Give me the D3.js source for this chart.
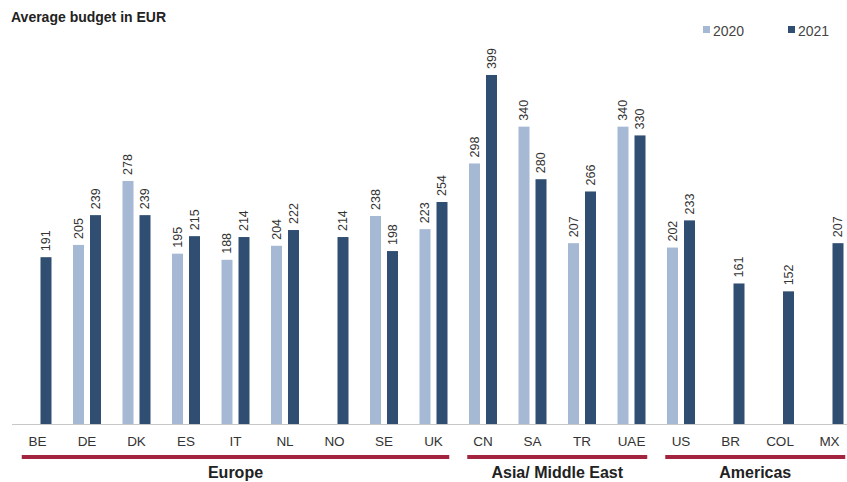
<!DOCTYPE html>
<html>
<head>
<meta charset="utf-8">
<script src="https://cdn.jsdelivr.net/npm/d3@7"></script>
<style>
    body { margin: 0; background: #fff; }
    svg { display: block; font-family: "Liberation Sans", Arial, sans-serif; }
</style>
</head>
<body>
<div id="chart"><svg></svg></div>
<script>
// chart data
const countries = ["BE", "DE", "DK", "ES", "IT", "NL", "NO", "SE", "UK", "CN", "SA", "TR", "UAE", "US", "BR", "COL", "MX"];
const values2020 = [null, 205, 278, 195, 188, 204, null, 238, 223, 298, 340, 207, 340, 202, null, null, null];
const values2021 = [191, 239, 239, 215, 214, 222, 214, 198, 254, 399, 280, 266, 330, 233, 161, 152, 207];
const seriesNames = ["2020", "2021"];
const regions = [
    { name: "Europe", from: "BE", to: "UK" },
    { name: "Asia/ Middle East", from: "CN", to: "UAE" },
    { name: "Americas", from: "US", to: "MX" }
];

const colors = { "2020": "#a5b9d5", "2021": "#2f4e72" };
const width = 847, height = 482;

const svg = d3.select("#chart svg")
    .attr("width", width)
    .attr("height", height);

const x = d3.scaleBand()
    .domain(countries)
    .range([12.75, 854.25]);

const y = d3.scaleLinear()
    .domain([0, 400])
    .range([424.5, 74.1]);

const barW = 11;
const barOffset = { "2020": -14, "2021": 3 };

// title
svg.append("text")
    .attr("x", 11)
    .attr("y", 22)
    .attr("font-size", 14)
    .attr("font-weight", "bold")
    .attr("fill", "#222")
    .text("Average budget in EUR");

// legend
const legend = svg.append("g");
[{ name: "2020", x: 703 }, { name: "2021", x: 788 }].forEach(d => {
    legend.append("rect")
        .attr("x", d.x)
        .attr("y", 26)
        .attr("width", 7)
        .attr("height", 7)
        .attr("fill", colors[d.name]);
    legend.append("text")
        .attr("x", d.x + 10)
        .attr("y", 35.5)
        .attr("font-size", 14)
        .attr("fill", "#444")
        .text(d.name);
});

// bars
const bars = [];
countries.forEach((c, i) => {
    if (values2020[i] != null) bars.push({ country: c, series: "2020", value: values2020[i] });
    if (values2021[i] != null) bars.push({ country: c, series: "2021", value: values2021[i] });
});

const center = c => x(c) + x.bandwidth() / 2;

svg.selectAll(".bar")
    .data(bars)
    .enter()
    .append("rect")
    .attr("class", "bar")
    .attr("x", d => center(d.country) + barOffset[d.series])
    .attr("y", d => y(d.value))
    .attr("width", barW)
    .attr("height", d => y(0) - y(d.value))
    .attr("fill", d => colors[d.series]);

svg.selectAll(".bar-label")
    .data(bars)
    .enter()
    .append("text")
    .attr("class", "bar-label")
    .attr("transform", d => `translate(${center(d.country) + barOffset[d.series] + barW / 2},${y(d.value) - 6}) rotate(-90)`)
    .attr("dy", "0.35em")
    .attr("font-size", 12.5)
    .attr("fill", "#333")
    .text(d => d.value);

// baseline
svg.append("line")
    .attr("x1", 12)
    .attr("x2", width)
    .attr("y1", y(0))
    .attr("y2", y(0))
    .attr("stroke", "#c8c8c8")
    .attr("stroke-width", 1.2);

// category labels
const xAxis = svg.append("g")
    .attr("transform", `translate(0,${y(0)})`)
    .call(d3.axisBottom(x).tickSize(0).tickPadding(12));
xAxis.select(".domain").remove();
xAxis.selectAll("text")
    .attr("font-size", 13.5)
    .attr("font-family", "\"Liberation Sans\", Arial, sans-serif")
    .attr("fill", "#333");

// region brackets
const inset = 9;
regions.forEach(r => {
    const x0 = x(r.from) + inset;
    const x1 = x(r.to) + x.bandwidth() - inset;
    svg.append("line")
        .attr("x1", x0)
        .attr("x2", x1)
        .attr("y1", 457)
        .attr("y2", 457)
        .attr("stroke", "#a3243f")
        .attr("stroke-width", 4);
    svg.append("text")
        .attr("x", (x(r.from) + x(r.to) + x.bandwidth()) / 2)
        .attr("y", 478)
        .attr("text-anchor", "middle")
        .attr("font-size", 16)
        .attr("font-weight", "bold")
        .attr("fill", "#222")
        .text(r.name);
});
</script>
</body>
</html>
